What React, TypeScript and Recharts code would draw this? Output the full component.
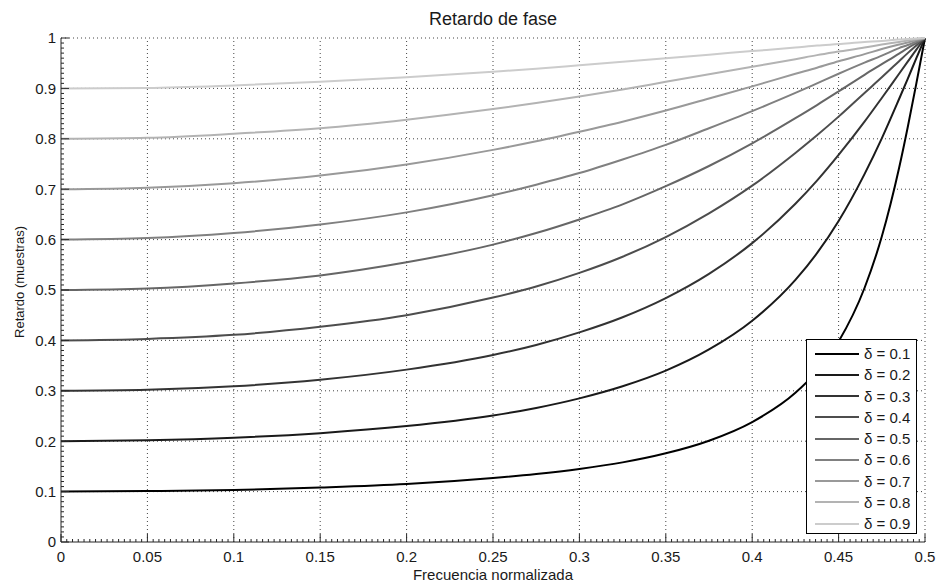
import { Legend, Line, LineChart, ReferenceLine, XAxis, YAxis } from "recharts";

// normalized frequency samples (denser near Nyquist where curves steepen)
const FREQ = [0, 0.05, 0.1, 0.15, 0.2, 0.25, 0.275, 0.3, 0.325, 0.35, 0.375, 0.4, 0.425, 0.4375, 0.45, 0.465, 0.475, 0.485, 0.49, 0.495, 0.5];

const DELAY_01 = [0.1, 0.101, 0.103, 0.108, 0.115, 0.127, 0.135, 0.145, 0.158, 0.176, 0.201, 0.238, 0.296, 0.339, 0.398, 0.504, 0.606, 0.742, 0.823, 0.91, 1];
const DELAY_02 = [0.2, 0.202, 0.207, 0.216, 0.23, 0.251, 0.266, 0.285, 0.309, 0.34, 0.382, 0.439, 0.52, 0.573, 0.637, 0.73, 0.801, 0.879, 0.919, 0.96, 1];
const DELAY_03 = [0.3, 0.302, 0.309, 0.322, 0.342, 0.371, 0.391, 0.416, 0.446, 0.484, 0.532, 0.593, 0.671, 0.717, 0.768, 0.834, 0.881, 0.929, 0.953, 0.977, 1];
const DELAY_04 = [0.4, 0.403, 0.411, 0.427, 0.45, 0.485, 0.507, 0.534, 0.566, 0.605, 0.652, 0.707, 0.772, 0.807, 0.844, 0.891, 0.922, 0.954, 0.97, 0.985, 1];
const DELAY_05 = [0.5, 0.503, 0.513, 0.529, 0.555, 0.59, 0.613, 0.64, 0.67, 0.706, 0.746, 0.791, 0.841, 0.867, 0.894, 0.927, 0.948, 0.969, 0.98, 0.99, 1];
const DELAY_06 = [0.6, 0.603, 0.613, 0.63, 0.654, 0.688, 0.709, 0.732, 0.759, 0.788, 0.821, 0.855, 0.891, 0.91, 0.929, 0.951, 0.965, 0.98, 0.986, 0.993, 1];
const DELAY_07 = [0.7, 0.703, 0.712, 0.727, 0.749, 0.778, 0.795, 0.814, 0.834, 0.856, 0.88, 0.904, 0.929, 0.941, 0.954, 0.968, 0.978, 0.987, 0.991, 0.996, 1];
const DELAY_08 = [0.8, 0.802, 0.81, 0.821, 0.838, 0.859, 0.871, 0.884, 0.898, 0.913, 0.928, 0.943, 0.958, 0.966, 0.973, 0.981, 0.987, 0.992, 0.995, 0.998, 1];
const DELAY_09 = [0.9, 0.901, 0.906, 0.913, 0.922, 0.933, 0.939, 0.946, 0.953, 0.96, 0.967, 0.974, 0.981, 0.985, 0.988, 0.992, 0.994, 0.997, 0.998, 0.999, 1];

const DELTAS = ["0.1", "0.2", "0.3", "0.4", "0.5", "0.6", "0.7", "0.8", "0.9"];
const SERIES = [DELAY_01, DELAY_02, DELAY_03, DELAY_04, DELAY_05, DELAY_06, DELAY_07, DELAY_08, DELAY_09];
const COLORS = ["#000000", "#1a1a1a", "#333333", "#4d4d4d", "#666666", "#808080", "#999999", "#b3b3b3", "#cccccc"];

const X_GRID = [0.05, 0.1, 0.15, 0.2, 0.25, 0.3, 0.35, 0.4, 0.45, 0.5];
const Y_GRID = [0.1, 0.2, 0.3, 0.4, 0.5, 0.6, 0.7, 0.8, 0.9, 1];

// major + minor tick positions
const X_TICKS: number[] = [];
for (let i = 0; i <= 150; i++) X_TICKS.push(+(i * (0.05 / 15)).toFixed(6));
const Y_TICKS: number[] = [];
for (let i = 0; i <= 100; i++) Y_TICKS.push(+(i * 0.01).toFixed(4));

const data = FREQ.map((f, i) => {
  const row: Record<string, number> = { f };
  SERIES.forEach((s, k) => {
    row[`d${k}`] = s[i];
  });
  return row;
});

const FONT = '"Liberation Sans", Arial, Helvetica, sans-serif';
const AXIS_COLOR = "#262626";
const TEXT_COLOR = "#1a1a1a";
const MARGIN = 6;

const isMultiple = (v: number, step: number) => Math.abs(v / step - Math.round(v / step)) < 1e-6;
const fmt = (v: number) => String(Math.round(v * 100) / 100);

function XTick(props: any) {
  const { x, y, payload } = props;
  const v = payload.value;
  const major = isMultiple(v, 0.05);
  const axisY = y - MARGIN;
  return (
    <g>
      <line x1={x} x2={x} y1={axisY} y2={axisY - (major ? 8 : 3)} stroke={AXIS_COLOR} strokeWidth={1} />
      {major && (
        <text x={x} y={axisY + 20} textAnchor="middle" fontSize={15} fontFamily={FONT} fill={TEXT_COLOR}>
          {fmt(v)}
        </text>
      )}
    </g>
  );
}

function YTick(props: any) {
  const { x, y, payload } = props;
  const v = payload.value;
  const major = isMultiple(v, 0.1);
  const axisX = x + MARGIN;
  return (
    <g>
      <line x1={axisX} x2={axisX + (major ? 8 : 3)} y1={y} y2={y} stroke={AXIS_COLOR} strokeWidth={1} />
      {major && (
        <text x={axisX - 5} y={y} dy="0.36em" textAnchor="end" fontSize={15} fontFamily={FONT} fill={TEXT_COLOR}>
          {fmt(v)}
        </text>
      )}
    </g>
  );
}

function YLabel(props: any) {
  const { viewBox } = props;
  const cx = viewBox.x + 24;
  const cy = viewBox.y + viewBox.height / 2 - 8;
  return (
    <text
      x={cx}
      y={cy}
      transform={`rotate(-90, ${cx}, ${cy})`}
      textAnchor="middle"
      fontSize={13}
      fontFamily={FONT}
      fill={TEXT_COLOR}
    >
      Retardo (muestras)
    </text>
  );
}

function LegendBox(props: any) {
  const { payload } = props;
  return (
    <div
      style={{
        width: 111,
        height: 195,
        boxSizing: "border-box",
        border: "1px solid #000",
        background: "#fff",
        padding: "3px 0 0 0",
        fontFamily: FONT,
        fontSize: 15,
        color: TEXT_COLOR,
      }}
    >
      {(payload || []).map((entry: any) => (
        <div key={entry.value} style={{ display: "flex", alignItems: "center", height: 21.25 }}>
          <div style={{ marginLeft: 8, width: 44, height: 2, background: entry.color }} />
          <span style={{ marginLeft: 5, lineHeight: "17px" }}>{entry.value}</span>
        </div>
      ))}
    </div>
  );
}

export default function App() {
  return (
    <div style={{ position: "absolute", left: 0, top: 0, width: 941, height: 585, background: "#fff" }}>
      <div
        style={{
          position: "absolute",
          left: 61,
          top: 10,
          width: 864,
          textAlign: "center",
          fontFamily: FONT,
          fontSize: 18,
          lineHeight: "18px",
          color: TEXT_COLOR,
        }}
      >
        Retardo de fase
      </div>
      <LineChart width={941} height={585} data={data} margin={{ top: 38, right: 16, bottom: 0, left: 0 }}>
        {X_GRID.map((v) => (
          <ReferenceLine key={`gx${v}`} x={v} stroke="#444" strokeWidth={1} strokeDasharray="1 3" />
        ))}
        {Y_GRID.map((v) => (
          <ReferenceLine key={`gy${v}`} y={v} stroke="#444" strokeWidth={1} strokeDasharray="1 3" />
        ))}
        <XAxis
          dataKey="f"
          type="number"
          domain={[0, 0.5]}
          ticks={X_TICKS}
          interval={0}
          height={43}
          tickSize={0}
          tickMargin={MARGIN}
          tickLine={false}
          axisLine={{ stroke: AXIS_COLOR }}
          tick={<XTick />}
          label={{
            value: "Frecuencia normalizada",
            position: "insideBottom",
            offset: 5,
            fontSize: 15,
            fontFamily: FONT,
            fill: TEXT_COLOR,
          }}
        />
        <YAxis
          type="number"
          domain={[0, 1]}
          ticks={Y_TICKS}
          interval={0}
          width={61}
          tickSize={0}
          tickMargin={MARGIN}
          tickLine={false}
          axisLine={{ stroke: AXIS_COLOR }}
          tick={<YTick />}
          label={{ content: <YLabel /> }}
        />
        <Legend
          layout="vertical"
          align="center"
          verticalAlign="middle"
          content={<LegendBox />}
          wrapperStyle={{ position: "absolute", left: 806, top: 339, width: 111, height: 195 }}
        />
        {SERIES.map((_, k) => (
          <Line
            key={k}
            type="monotone"
            dataKey={`d${k}`}
            name={`δ = ${DELTAS[k]}`}
            stroke={COLORS[k]}
            strokeWidth={2}
            dot={false}
            activeDot={false}
            isAnimationActive={false}
          />
        ))}
      </LineChart>
    </div>
  );
}
